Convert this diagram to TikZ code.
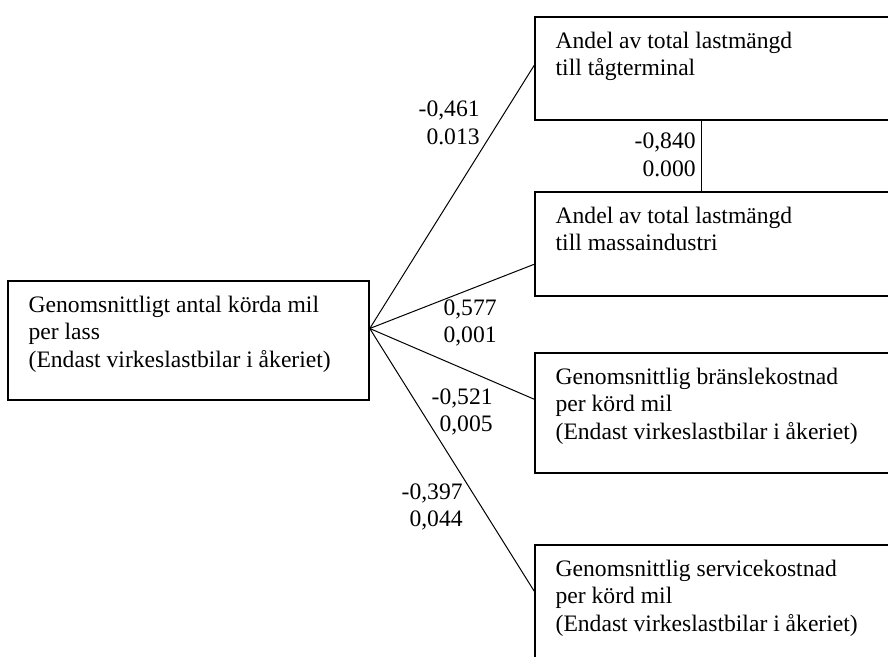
\documentclass[tikz,border=0pt]{standalone}
\usepackage{fontspec}
\setmainfont{Liberation Serif}
\usetikzlibrary{positioning, calc, fit}

\begin{document}
\begin{tikzpicture}[
    x=0.5pt, y=-0.5pt,
    every node/.style={font=\fontsize{11.8}{13.85}\selectfont},
    % Variable: plain rectangle, text placed separately
    varbox/.style={rectangle, draw=black, line width=0.75pt, inner sep=0pt},
    % Text inside a variable box, top left
    vartext/.style={anchor=north west, inner sep=0pt, align=left},
    % Coefficient / p-value pair next to an edge
    coef/.style={anchor=east, inner sep=0pt, align=right},
    % Edge style
    edge/.style={line width=0.5pt},
]

% Frame (boxes on the right run past it)
\path[use as bounding box, clip] (0,0) rectangle (888,657);

% ====================================================
% BOXES
% ====================================================
\node[varbox, fit={(8,281) (369,400)}] (genom) {};
\node[varbox, fit={(535,17) (915,120)}] (tag) {};
\node[varbox, fit={(535,192) (915,296)}] (mass) {};
\node[varbox, fit={(535,353) (915,473)}] (bransle) {};
\node[varbox, fit={(535,545) (915,690)}] (service) {};

% Texts
\node[vartext] (genom-t) at ($(genom.north west)+(21,15)$)
    {Genomsnittligt antal körda mil\\per lass\\(Endast virkeslastbilar i åkeriet)};
\node[vartext] (tag-t) at ($(tag.north west)+(21,15)$)
    {Andel av total lastmängd\\till tågterminal};
\node[vartext] (mass-t) at ($(mass.north west)+(21,15)$)
    {Andel av total lastmängd\\till massaindustri};
\node[vartext] (bransle-t) at ($(bransle.north west)+(21,15)$)
    {Genomsnittlig bränslekostnad\\per körd mil\\(Endast virkeslastbilar i åkeriet)};
\node[vartext] (service-t) at ($(service.north west)+(21,15)$)
    {Genomsnittlig servicekostnad\\per körd mil\\(Endast virkeslastbilar i åkeriet)};

% ====================================================
% EDGES
% ====================================================
\coordinate (hub) at ($(genom.east)+(0,-12)$);
\coordinate (tag-in) at ($(tag.north west)+(0,49)$);
\coordinate (mass-in) at ($(mass.north west)+(0,73)$);
\coordinate (bransle-in) at ($(bransle.north west)+(0,47)$);
\coordinate (service-in) at ($(service.north west)+(0,47)$);
\coordinate (tag-out) at ($(tag.south west)+(167,0)$);
\coordinate (mass-top) at ($(mass.north west)+(167,0)$);

\draw[edge] (hub) -- (tag-in);
\draw[edge] (hub) -- (mass-in);
\draw[edge] (hub) -- (bransle-in);
\draw[edge] (hub) -- (service-in);
\draw[edge] (tag-out) -- (mass-top);

% Coefficients
\node[coef] (c-tag) at (480,123) {-0,461\\0.013};
\node[coef] (c-tagmass) at (696,155) {-0,840\\0.000};
\node[coef] (c-mass) at (497,323) {0,577\\0,001};
\node[coef] (c-bransle) at (493,412) {-0,521\\0,005};
\node[coef] (c-service) at (463,507) {-0,397\\0,044};

\end{tikzpicture}
\end{document}
